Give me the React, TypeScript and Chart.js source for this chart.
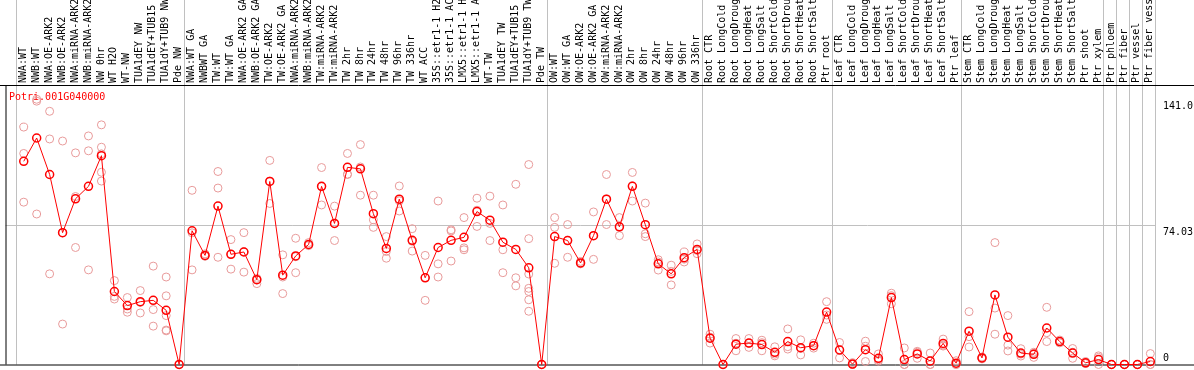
import React, { useEffect, useRef } from 'react';
import { Chart, registerables } from 'chart.js';

Chart.register(...registerables);

const categories = [
  'NWA:WT', 'NWB:WT', 'NWA:OE-ARK2', 'NWB:OE-ARK2', 'NWA:miRNA-ARK2', 'NWB:miRNA-ARK2', 'NW 0hr', 'WT H2O', 'WT-NW',
  'TUA1dEY NW', 'TUA1dEY+TUB15 NW', 'TUA1dY+TUB9 NW', 'Pde NW',
  'NWA:WT GA', 'NWBWT GA', 'TW:WT', 'TW:WT GA', 'NWA:OE-ARK2 GA', 'NWB:OE-ARK2 GA', 'TW:OE-ARK2', 'TW:OE-ARK2 GA',
  'NWA:miRNA-ARK2', 'NWB:miRNA-ARK2', 'TW:miRNA-ARK2', 'TW:miRNA-ARK2', 'TW 2hr', 'TW 8hr', 'TW 24hr', 'TW 48hr',
  'TW 96hr', 'TW 336hr', 'WT ACC', '35S::etr1-1 H2O', '35S::etr1-1 ACC', 'LMX5::etr1-1 H2O', 'LMX5::etr1-1 ACC',
  'WT-TW', 'TUA1dEY TW', 'TUA1dEY+TUB15 TW', 'TUA1dY+TUB9 TW', 'Pde TW',
  'OW:WT', 'OW:WT GA', 'OW:OE-ARK2', 'OW:OE-ARK2 GA', 'OW:miRNA-ARK2', 'OW:miRNA-ARK2', 'OW 2hr', 'OW 8hr',
  'OW 24hr', 'OW 48hr', 'OW 96hr', 'OW 336hr',
  'Root CTR', 'Root LongCold', 'Root LongDrought', 'Root LongHeat', 'Root LongSalt', 'Root ShortCold',
  'Root ShortDrought', 'Root ShortHeat', 'Root ShortSalt', 'Ptr root',
  'Leaf CTR', 'Leaf LongCold', 'Leaf LongDrought', 'Leaf LongHeat', 'Leaf LongSalt', 'Leaf ShortCold',
  'Leaf ShortDrought', 'Leaf ShortHeat', 'Leaf ShortSalt', 'Ptr leaf',
  'Stem CTR', 'Stem LongCold', 'Stem LongDrought', 'Stem LongHeat', 'Stem LongSalt', 'Stem ShortCold',
  'Stem ShortDrought', 'Stem ShortHeat', 'Stem ShortSalt', 'Ptr shoot', 'Ptr xylem',
  'Ptr phloem', 'Ptr fiber', 'Ptr vessel', 'Ptr fiber vessel',
];

const meanValues = [
  108.0, 120.4, 101.0, 70.1, 88.1, 94.7, 111.0, 38.8, 31.3, 33.4, 34.1, 28.8, 0,
  71.1, 58.0, 84.2, 58.6, 59.8, 45.1, 97.3, 47.5, 57.7, 63.8, 94.7, 75.0, 104.8, 104.0, 80.2, 61.7,
  87.9, 66.0, 46.1, 62.2, 66.0, 67.6, 81.3, 76.7, 65.0, 61.2, 51.4, 0,
  68.0, 65.9, 54.0, 68.5, 87.9, 73.2, 94.7, 74.3, 53.5, 48.2, 56.8, 61.2,
  14.0, 0, 10.8, 11.4, 10.6, 6.5, 12.2, 8.9, 10.0, 27.9,
  7.7, 0.2, 7.9, 3.3, 35.6, 2.6, 5.6, 1.9, 11.2, 0.7,
  17.7, 3.5, 37.0, 14.5, 6.1, 5.4, 19.4, 12.2, 6.1, 0.9, 2.6,
  0, 0, 0, 1.6,
];

const replicateValues = [
  [126.2, 112.2, 86.3], [141.0, 140.0, 80.0], [134.6, 119.9, 48.2], [118.8, 70.0, 21.5],
  [112.5, 89.3, 62.2], [121.5, 113.6, 50.3], [127.4, 115.5, 112.0, 102.2, 97.5], [44.6, 36.2, 34.8],
  [35.6, 29.5, 27.8], [39.3, 33.0, 27.4], [52.3, 29.2, 20.4], [46.5, 36.5, 26.0, 18.3, 17.9], [0, 0, 0],
  [92.6, 70.0, 50.3], [58.8, 57.5, 57.8], [102.6, 93.8, 57.0], [66.4, 58.7, 50.7],
  [70.1, 60.0, 49.1], [45.8, 45.0, 43.0], [108.5, 97.5, 85.6], [58.3, 46.5, 37.7],
  [67.1, 57.3, 48.8], [64.8, 63.2, 63.5], [104.7, 94.5, 84.8], [84.2, 75.0, 65.9],
  [112.2, 101.2, 101.0], [116.9, 105.0, 90.0], [90.0, 76.9, 72.9], [68.0, 60.1, 56.5],
  [94.9, 87.0, 81.6], [72.2, 65.5, 60.3], [58.0, 46.2, 34.1], [86.9, 53.5, 46.5],
  [71.6, 71.0, 55.0], [78.1, 62.0, 61.0], [88.4, 82.0, 73.4], [89.5, 75.0, 65.9],
  [84.8, 61.0, 48.8], [95.8, 46.1, 41.8], [106.3, 66.9, 48.1, 40.5, 38.8, 34.4, 28.3], [0, 0, 0],
  [78.1, 72.9, 53.8], [74.4, 66.0, 57.0], [54.8, 53.5, 53.8], [81.1, 68.5, 55.9],
  [101.0, 88.0, 74.4], [78.1, 73.0, 68.5], [102.1, 95.0, 86.9], [85.8, 69.5, 68.0],
  [55.7, 54.5, 50.2], [52.8, 49.5, 42.3], [59.8, 56.0, 54.5], [64.1, 60.6, 58.9],
  [16.1, 14.5, 11.4], [0, 0, 0], [13.8, 11.3, 7.3], [13.8, 11.3, 9.1], [12.9, 11.6, 7.3],
  [9.4, 5.5, 4.6], [18.9, 9.5, 8.2], [13.1, 8.5, 5.1], [11.3, 10.0, 8.7], [33.4, 26.3, 24.0],
  [11.7, 7.9, 3.5], [1.0, 0, 0], [12.4, 9.7, 1.6], [5.6, 2.5, 1.8], [37.9, 36.6, 32.3],
  [8.8, 0, 0], [7.0, 6.5, 3.3], [6.1, 0, 0], [13.5, 10.3, 9.8], [2.0, 0, 0],
  [28.1, 14.8, 9.3], [4.0, 3.5, 3.0], [64.8, 30.0, 16.1], [26.0, 10.3, 7.2], [8.4, 5.5, 4.5],
  [6.5, 5.9, 3.8], [30.4, 16.9, 12.2], [13.0, 12.2, 11.5], [8.5, 6.5, 3.3], [1.6, 0.6, 0.5],
  [4.6, 3.8, 0], [0, 0, 0], [0, 0, 0], [0, 0, 0], [5.8, 0, 0],
];

const groupStarts = [0, 13, 41, 53, 63, 73, 84, 85, 86, 87];
const yTickValues = [141.0, 74.03, 0];
const yTickLabels = ['141.0', '74.03', '0'];
const gridValues = [74.03];
const titleText = 'Potri.001G040000';

const MONO = '10px "DejaVu Sans Mono", "Liberation Mono", monospace';

const decorations = {
  id: 'decorations',
  beforeDatasetsDraw(chart: any) {
    const { ctx, chartArea, scales, width } = chart;
    const xs = scales.x;
    const ys = scales.y;
    ctx.save();
    ctx.lineWidth = 1;
    ctx.strokeStyle = '#c0c0c0';
    // group separators
    for (const g of groupStarts) {
      const px = Math.round(xs.getPixelForValue(g - 0.62)) + 0.5;
      ctx.beginPath();
      ctx.moveTo(px, 0);
      ctx.lineTo(px, chartArea.bottom);
      ctx.stroke();
    }
    const rx = Math.round(chartArea.right) + 0.5;
    ctx.beginPath();
    ctx.moveTo(rx, 0);
    ctx.lineTo(rx, chartArea.bottom);
    ctx.stroke();
    // horizontal grid
    for (const v of gridValues) {
      const py = Math.round(ys.getPixelForValue(v)) + 0.5;
      ctx.beginPath();
      ctx.moveTo(chartArea.left, py);
      ctx.lineTo(chartArea.right, py);
      ctx.stroke();
    }
    // black frame lines
    ctx.strokeStyle = '#000';
    ctx.beginPath();
    ctx.moveTo(0, chartArea.top - 0.5);
    ctx.lineTo(width, chartArea.top - 0.5);
    ctx.stroke();
    ctx.beginPath();
    ctx.moveTo(chartArea.left + 0.5, chartArea.top);
    ctx.lineTo(chartArea.left + 0.5, chartArea.bottom);
    ctx.stroke();
    ctx.beginPath();
    ctx.moveTo(0, chartArea.bottom + 0.5);
    ctx.lineTo(width, chartArea.bottom + 0.5);
    ctx.stroke();
    // title
    ctx.font = MONO;
    ctx.fillStyle = '#ff0000';
    ctx.textAlign = 'left';
    ctx.textBaseline = 'middle';
    ctx.fillText(titleText, 9, chartArea.top + 11);
    ctx.restore();
  },
  afterDraw(chart: any) {
    const { ctx, chartArea, scales } = chart;
    const xs = scales.x;
    const ys = scales.y;
    ctx.save();
    ctx.font = MONO;
    ctx.fillStyle = '#000';
    ctx.textAlign = 'left';
    ctx.textBaseline = 'middle';
    categories.forEach((label, i) => {
      const px = xs.getPixelForValue(i);
      ctx.save();
      ctx.translate(px - 0.5, chartArea.top - 3);
      ctx.rotate(-Math.PI / 2);
      ctx.fillText(label, 0, 0);
      ctx.restore();
    });
    yTickValues.forEach((v, i) => {
      const py = ys.getPixelForValue(v);
      if (v === 0) {
        ctx.textBaseline = 'bottom';
        ctx.fillText(yTickLabels[i], chartArea.right + 8, py - 1);
      } else {
        ctx.textBaseline = 'top';
        ctx.fillText(yTickLabels[i], chartArea.right + 8, py + 2);
      }
    });
    ctx.restore();
  },
};

export default function App() {
  const canvasRef = useRef<HTMLCanvasElement | null>(null);

  useEffect(() => {
    const canvas = canvasRef.current;
    if (!canvas) return;
    const meanData = meanValues.map((v, i) => ({ x: i, y: v }));
    const repData: { x: number; y: number }[] = [];
    replicateValues.forEach((reps, i) => reps.forEach((v) => repData.push({ x: i, y: v })));

    const chart = new Chart(canvas, {
      type: 'line',
      data: {
        datasets: [
          {
            type: 'line',
            label: 'mean',
            data: meanData,
            borderColor: '#ff0000',
            borderWidth: 1,
            pointRadius: 4,
            pointBorderWidth: 1.5,
            pointBorderColor: '#ff0000',
            pointBackgroundColor: 'rgba(0,0,0,0)',
            fill: false,
            tension: 0,
            clip: false as any,
            order: 0,
          },
          {
            type: 'scatter',
            label: 'replicates',
            data: repData,
            showLine: false,
            pointRadius: 4,
            pointBorderWidth: 1,
            pointBorderColor: '#e89a9a',
            pointBackgroundColor: 'rgba(0,0,0,0)',
            clip: false as any,
            order: 1,
          } as any,
        ],
      },
      options: {
        animation: false,
        responsive: false,
        maintainAspectRatio: false,
        events: [],
        layout: { padding: { left: 1, right: 39, top: 86, bottom: 1 } },
        plugins: { legend: { display: false }, tooltip: { enabled: false } },
        scales: {
          x: { type: 'linear', display: false, min: -1.408, max: 87.36 },
          y: { type: 'linear', display: false, min: 0, max: 148.05 },
        },
      },
      plugins: [decorations],
    });
    return () => chart.destroy();
  }, []);

  return (
    <div style={{ position: 'absolute', left: 0, top: 0, width: 1194, height: 370, background: '#fff' }}>
      <canvas ref={canvasRef} width={1194} height={370} style={{ display: 'block' }} />
    </div>
  );
}
